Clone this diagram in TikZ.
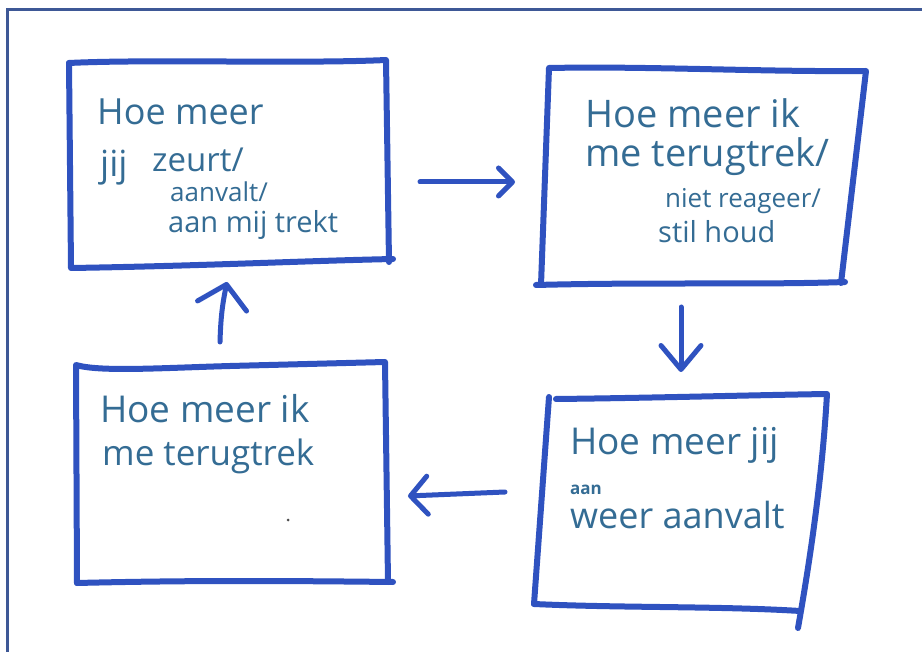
\documentclass[tikz,border=0pt]{standalone}
\usepackage{fontspec}
\setmainfont{Open Sans}
\usetikzlibrary{arrows.meta}
\definecolor{boxblue}{RGB}{47,82,192}
\definecolor{ink}{RGB}{52,108,148}
\definecolor{framecol}{RGB}{62,88,150}
\tikzset{
  hand/.style={draw=boxblue, line width=6pt, line join=round, line cap=round},
  flow/.style={draw=boxblue, line width=5pt, line cap=round, line join=round},
  txt/.style={anchor=base west, inner sep=0pt, text=ink},
}
\newcommand{\fs}[1]{\fontsize{#1}{#1}\selectfont}
\begin{document}
\begin{tikzpicture}[x=1pt,y=-1pt]
\fill[white] (0,0) rectangle (922,652);
\useasboundingbox (0,0) rectangle (922,652);
\draw[framecol, line width=3pt] (7,652) -- (7,9.5) -- (922,9.5);

% box 1
\coordinate (b1tl) at (69,63); \coordinate (b1tr) at (386,60);
\coordinate (b1br) at (389,262); \coordinate (b1bl) at (71,268);
\draw[hand] (b1tl) .. controls (150,59) and (300,64) .. (b1tr) -- (b1br);
\draw[hand] (b1tl) -- (b1bl) .. controls (200,266) and (300,261) .. (393,259);

% box 2
\coordinate (b2tl) at (549,68); \coordinate (b2tr) at (866,71);
\coordinate (b2br) at (841,283); \coordinate (b2bl) at (541,285);
\draw[hand] (b2bl) -- (b2tl) .. controls (650,66) and (760,72) .. (b2tr) -- (b2br);
\draw[hand] (536,285) .. controls (650,282) and (760,285) .. (845,282);

% box 3
\coordinate (b3tl) at (76,365); \coordinate (b3tr) at (385,362);
\coordinate (b3br) at (388,582); \coordinate (b3bl) at (77,583);
\draw[hand] (b3bl) -- (b3tl) .. controls (100,372) and (160,368) .. (230,366) -- (b3tr) -- (b3br);
\draw[hand] (b3bl) .. controls (200,580) and (300,581) .. (393,582);

% box 4
\coordinate (b4tl) at (549,397); \coordinate (b4tr) at (827,394);
\coordinate (b4br) at (800,611); \coordinate (b4bl) at (534,604);
\draw[hand] (b4bl) -- (b4tl);
\draw[hand] (556,399) .. controls (650,398) and (760,395) .. (b4tr) .. controls (822,480) and (810,560) .. (798,628);
\draw[hand] (b4bl) .. controls (620,608) and (720,606) .. (b4br);

% texts box 1
\node[txt, font=\fs{36}] (t1a) at (97,125) {Hoe meer};
\node[txt, font=\fs{36}] (t1b) at (100,177) {jij};
\node[txt, font=\fs{33}] (t1c) at (152,172) {zeurt/};
\node[txt, font=\fs{26}] (t1d) at (170,202) {aanvalt/};
\node[txt, font=\fs{29}] (t1e) at (168,233) {aan mij trekt};

% texts box 2
\node[txt, font=\fs{38}] (t2a) at (585,128) {Hoe meer ik};
\node[txt, font=\fs{38}] (t2b) at (585,167) {me terugtrek/};
\node[txt, font=\fs{26}] (t2c) at (665,208) {niet reageer/};
\node[txt, font=\fs{29}] (t2d) at (658,243) {stil houd};

% texts box 3
\node[txt, font=\fs{37}] (t3a) at (100,423) {Hoe meer ik};
\node[txt, font=\fs{35}] (t3b) at (102,466) {me terugtrek};
\fill[black!70] (288,520) circle (1.5);

% texts box 4
\node[txt, font=\fs{37}] (t4a) at (570,455) {Hoe meer jij};
\node[txt, font=\bfseries\fs{17}] (t4b) at (570,494) {aan};
\node[txt, font=\fs{36}] (t4c) at (570,529) {weer aanvalt};

% arrows
\coordinate (a1s) at (420,182); \coordinate (a1e) at (515,182);
\coordinate (a2s) at (681,307); \coordinate (a2e) at (681,372);
\coordinate (a3s) at (505,492); \coordinate (a3e) at (408,496);
\coordinate (a4s) at (220,342); \coordinate (a4e) at (227,282);
\draw[flow, -{Straight Barb[length=14pt,width=28pt,round]}] (a1s) -- (a1e);
\draw[flow, -{Straight Barb[length=24pt,width=40pt,round]}] (a2s) -- (a2e);
\draw[flow, -{Straight Barb[length=17pt,width=38pt,round]}] (a3s) -- (a3e);
\draw[flow, -{Straight Barb[length=22pt,width=50pt,round]}] (a4s) to[bend left=5] (a4e);
\end{tikzpicture}
\end{document}
